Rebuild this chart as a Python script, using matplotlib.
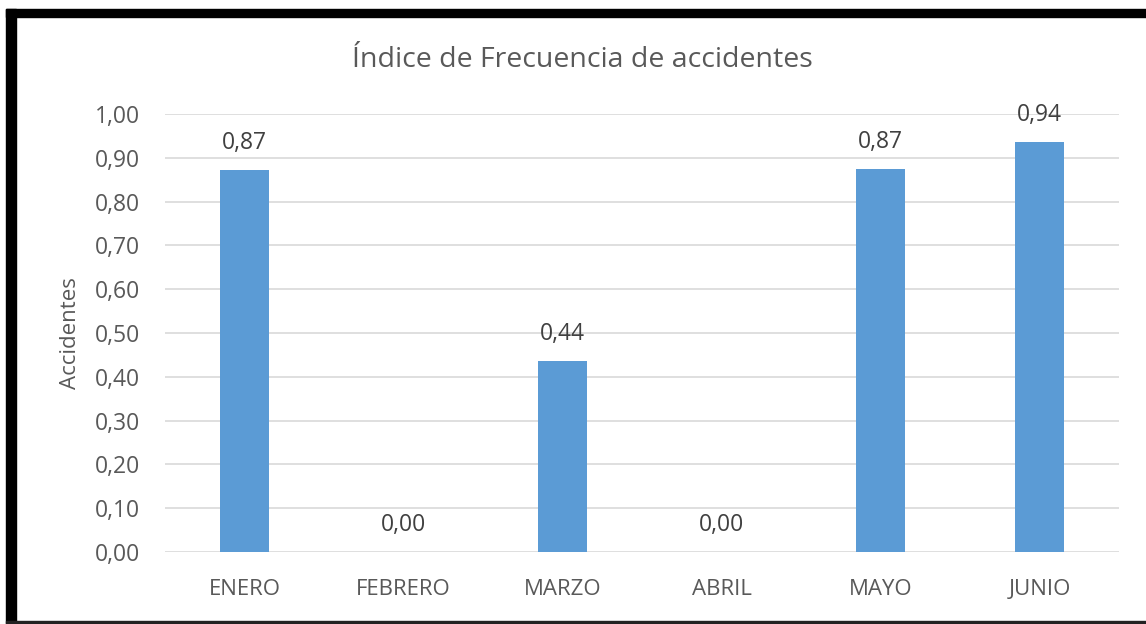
import matplotlib
matplotlib.use("Agg")
import matplotlib.pyplot as plt
from matplotlib.patches import Rectangle

categories = ["ENERO", "FEBRERO", "MARZO", "ABRIL", "MAYO", "JUNIO"]
values = [0.872, 0.0, 0.436, 0.0, 0.874, 0.936]
labels = ["0,87", "0,00", "0,44", "0,00", "0,87", "0,94"]
yticks = [0.0, 0.1, 0.2, 0.3, 0.4, 0.5, 0.6, 0.7, 0.8, 0.9, 1.0]
ytick_labels = ["0,00", "0,10", "0,20", "0,30", "0,40", "0,50", "0,60", "0,70", "0,80", "0,90", "1,00"]

W, H = 1146, 624
plt.rcParams['font.family'] = ['Open Sans', 'DejaVu Sans']
fig = plt.figure(figsize=(W / 100, H / 100), dpi=100)
fig.patch.set_facecolor("white")

x0, x1 = 165, 1119
ytop, ybot = 114, 552
ax = fig.add_axes([x0 / W, 1 - ybot / H, (x1 - x0) / W, (ybot - ytop) / H])

text_color = "#595959"
xs = range(len(categories))
ax.bar(xs, values, width=0.31, color="#5B9BD5", zorder=3)
for x, v, lab in zip(xs, values, labels):
    ax.annotate(lab, (x, v), xytext=(0, 11), textcoords="offset points",
                ha="center", va="bottom", fontsize=16.5, color="#404040")

ax.set_xlim(-0.5, len(categories) - 0.5)
ax.set_ylim(0, 1.0)
ax.set_yticks(yticks)
ax.set_yticklabels(ytick_labels, fontsize=16.5, color=text_color)
ax.set_xticks(list(xs))
ax.set_xticklabels(categories, fontsize=16, color=text_color)
ax.tick_params(axis="both", length=0)
ax.tick_params(axis="y", pad=18)
ax.tick_params(axis="x", pad=19.5)
ax.grid(axis="y", color="#D9D9D9", linewidth=1.2, zorder=0)
for s in ax.spines.values():
    s.set_visible(False)
ax.set_ylabel("Accidentes", fontsize=16, color=text_color, labelpad=10)

fig.text(582 / W, 1 - 60 / H, "Índice de Frecuencia de accidentes",
         ha="center", va="center", fontsize=20.5, color=text_color)

# black border
fig.patches.append(Rectangle((6 / W, 0), 10 / W, 1 - 9 / H, transform=fig.transFigure,
                             color="black", zorder=10))
fig.patches.append(Rectangle((6 / W, 1 - 17 / H), 1 - 6 / W, 8 / H, transform=fig.transFigure,
                             color="black", zorder=10))
fig.patches.append(Rectangle((6 / W, 1 - 623 / H), 1 - 6 / W, 2 / H, transform=fig.transFigure,
                             color="#222222", zorder=10))

fig.savefig("out.png", dpi=100, facecolor="white")
